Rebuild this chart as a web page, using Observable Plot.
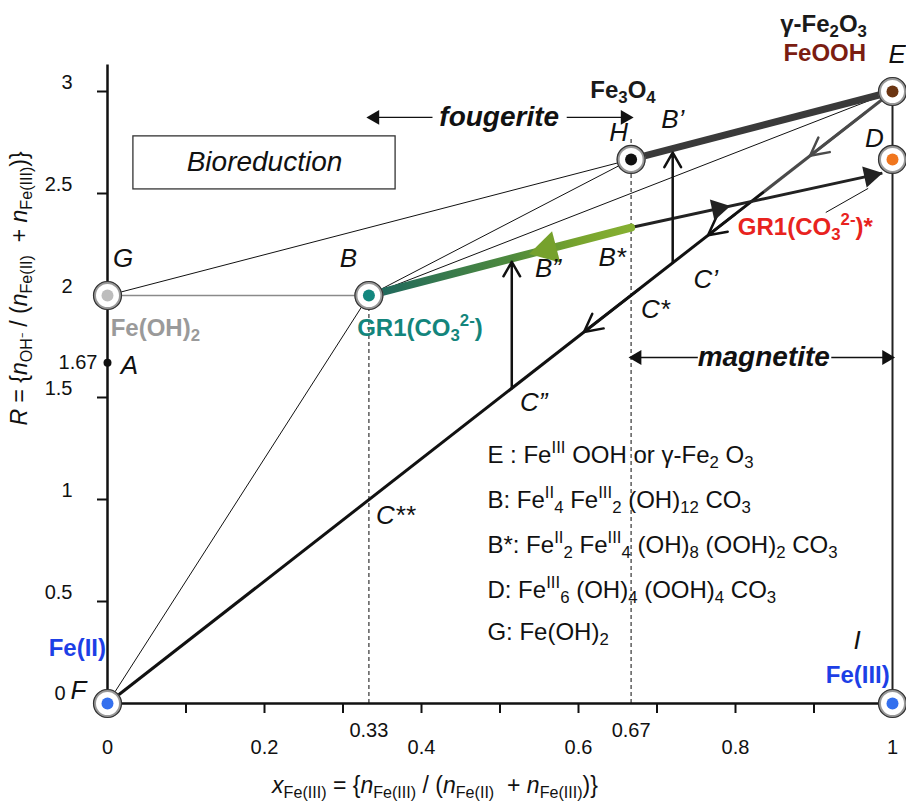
<!DOCTYPE html>
<html><head><meta charset="utf-8">
<script src="https://cdn.jsdelivr.net/npm/d3@7"></script>
<script src="https://cdn.jsdelivr.net/npm/@observablehq/plot@0.6"></script>
<style>body{margin:0;background:#fff}svg{display:block}</style>
</head><body><div id="chart"></div>
<script>
// ---- circled composition points ----
const nodeNames  = ["F", "G", "B", "H", "E", "D", "I"];
const nodeX      = [0, 0, 0.333, 0.667, 1, 1, 1];
const nodeY      = [0, 2, 2, 2.667, 3, 2.667, 0];
const nodeColors = ["#3470ee", "#bdbdbd", "#13877e", "#111111", "#6b3512", "#f0761e", "#3470ee"];
// extra points
const pointA = {x: 0, y: 1.67};
const pointBstar = {x: 0.667, y: 2.333};
const pointDend = {x: 0.987, y: 2.60};   // B* -> D arrow ends at D's rim
// thin tie lines (node name pairs)
const thinSegments = [["G","H"], ["B","H"], ["B","E"], ["F","B"]];
// oxidation path E -> F along R = 3x, split at C'
const pathSplitX = 0.8;
const chevronX = [0.895, 0.765, 0.607];
// vertical arrows C' -> B', C'' -> B''
const vArrowX  = [0.72, 0.515];
const vArrowY1 = [2.16, 1.545];
const vArrowY2 = [2.70, 2.165];
// axis ticks
const xMinorTicks = [0.1,0.2,0.3,0.4,0.5,0.6,0.7,0.8,0.9];
const xTickLabels = [0, 0.2, 0.4, 0.6, 0.8, 1];
const xSpecialTicks = [0.333, 0.667];
const xSpecialLabels = ["0.33", "0.67"];
const yTicks = [0.5, 1, 1.5, 2, 2.5, 3];
// regions
const fougerite = {x1: 0.333, x2: 0.667, y: 2.873, textX: 0.499, gap1: 0.414, gap2: 0.585};
const magnetite = {x1: 0.667, x2: 1.0, y: 1.696, textX: 0.836, gap1: 0.752, gap2: 0.922};
const bioBox = {x1: 0.033, x2: 0.367, y1: 2.52, y2: 2.78, tx: 0.2, ty: 2.652};
// italic point labels
const letterText = ["G","B","A","H","B’","D","E","B*","B”","C’","C*","C”","C**","F","I"];
const letterX    = [0.020,0.307,0.028,0.651,0.720,0.977,1.006,0.643,0.561,0.762,0.698,0.543,0.367,-0.037,0.955];
const letterY    = [2.18,2.18,1.657,2.80,2.86,2.77,3.18,2.186,2.13,2.08,1.93,1.475,0.92,0.064,0.31];
// bold coloured labels (start anchored)
const tagText  = ["Fe(OH)_{2}", "GR1(CO_{3}^{2-})", "Fe_{3}O_{4}", "γ-Fe_{2}O_{3}", "FeOOH", "GR1(CO_{3}^{2-})*", "Fe(II)", "Fe(III)"];
const tagX     = [0.004, 0.318, 0.615, 0.857, 0.861, 0.803, -0.075, 0.915];
const tagY     = [1.838, 1.838, 3.005, 3.33, 3.186, 2.333, 0.27, 0.137];
const tagColor = ["#9a9a9a", "#13857c", "#1a1a1a", "#1a1a1a", "#7b1d12", "#e8231e", "#1d3fe6", "#1d3fe6"];
// pointer from GR1(CO3)* label toward D
const pointer = {x1: 0.915, y1: 2.407, x2: 0.969, y2: 2.525};
// formula legend
const legendLines = [
  "E : Fe^{III} OOH or γ-Fe_{2} O_{3}",
  "B: Fe^{II}_{4} Fe^{III}_{2} (OH)_{12} CO_{3}",
  "B*: Fe^{II}_{2} Fe^{III}_{4} (OH)_{8} (OOH)_{2} CO_{3}",
  "D: Fe^{III}_{6} (OH)_{4} (OOH)_{4} CO_{3}",
  "G: Fe(OH)_{2}"
];
const legendX = 0.484;
const legendY = [1.216, 0.995, 0.775, 0.554, 0.348];
const yTitle = "~{R} = {~{n}_{OH⁻} / (~{n}_{Fe(II)}  + ~{n}_{Fe(III)})}";
const xTitle = "~{x}_{Fe(III)} = {~{n}_{Fe(III)} / (~{n}_{Fe(II)}  + ~{n}_{Fe(III)})}";

// ---- derived tables ----
const nodes = nodeNames.map((n, i) => ({name: n, x: nodeX[i], y: nodeY[i], color: nodeColors[i]}));
const byName = Object.fromEntries(nodes.map(d => [d.name, d]));
const segs = thinSegments.map(([a, b]) => ({a: byName[a], b: byName[b]}));
const E = byName.E, F = byName.F, B = byName.B, H = byName.H, D = byName.D, G = byName.G;
const split = {x: pathSplitX, y: 3 * pathSplitX};
const vArrows = vArrowX.map((x, i) => ({x, y1: vArrowY1[i], y2: vArrowY2[i]}));
const letters = letterText.map((t, i) => ({t, x: letterX[i], y: letterY[i]}));
const tags = tagText.map((t, i) => ({t, x: tagX[i], y: tagY[i], c: tagColor[i]}));
const legend = legendLines.map((t, i) => ({t, x: legendX, y: legendY[i]}));
const lerp = (p, q, x) => p.y + (q.y - p.y) * (x - p.x) / (q.x - p.x);
const greenHeadX = 0.56, bdHeadX = [0.778, 0.972];

const link = (p, q, o) => Plot.link([0], {x1: () => p.x, y1: () => p.y, x2: () => q.x, y2: () => q.y, ...o});

const chart = Plot.plot({
  width: 906, height: 802,
  marginLeft: 107, marginRight: 14, marginTop: 50.2, marginBottom: 99,
  x: {domain: [0, 1]},
  y: {domain: [0, 3.2]},
  color: {type: "identity"},
  style: {fontFamily: "'Liberation Sans', Arial, sans-serif", background: "white", color: "#111"},
  marks: [
    () => {
      const defs = d3.create("svg:defs");
      const g = defs.append("linearGradient").attr("id", "greenGrad")
        .attr("x1", 0).attr("y1", 0).attr("x2", 1).attr("y2", 0);
      g.append("stop").attr("offset", "0%").attr("stop-color", "#1c6660");
      g.append("stop").attr("offset", "55%").attr("stop-color", "#4f8a3c");
      g.append("stop").attr("offset", "80%").attr("stop-color", "#78a42e");
      g.append("stop").attr("offset", "100%").attr("stop-color", "#86b032");
      return defs.node();
    },
    // Bioreduction box
    Plot.rect([bioBox], {x1: "x1", x2: "x2", y1: "y1", y2: "y2", fill: "white", stroke: "#333", strokeWidth: 1.3}),
    // dashed guides
    Plot.ruleX([B.x], {y1: 0, y2: B.y, stroke: "#333", strokeWidth: 1.2, strokeDasharray: "4,3"}),
    Plot.ruleX([H.x], {y1: 0, y2: 2.78, stroke: "#333", strokeWidth: 1.2, strokeDasharray: "4,3"}),
    // axes frame
    Plot.ruleX([0], {y1: 0, y2: 3.13, stroke: "#111", strokeWidth: 2.5}),
    Plot.ruleY([0], {x1: 0, x2: 1, stroke: "#111", strokeWidth: 2.5}),
    Plot.ruleX([1], {y1: -0.04, y2: 3, stroke: "#222", strokeWidth: 2}),
    Plot.axisX(xMinorTicks, {anchor: "bottom", tickSize: 10, tickFormat: () => "", strokeWidth: 2, label: null}),
    Plot.axisY(yTicks, {anchor: "left", tickSize: 10, tickFormat: () => "", strokeWidth: 2, label: null}),
    // tie lines
    Plot.link(segs, {x1: d => d.a.x, y1: d => d.a.y, x2: d => d.b.x, y2: d => d.b.y, stroke: "#111", strokeWidth: 1}),
    link(G, B, {stroke: "#8a8a8a", strokeWidth: 1.6}),
    link(H, E, {stroke: "#3a3a3a", strokeWidth: 7}),
    // oxidation path
    link(E, split, {stroke: "#4a4a4a", strokeWidth: 3}),
    link(split, F, {stroke: "#111", strokeWidth: 3}),
    Plot.arrow(chevronX, {x1: d => d + 0.07, y1: d => 3 * (d + 0.07), x2: d => d, y2: d => 3 * d,
      stroke: d => d > pathSplitX ? "#4a4a4a" : "#111", strokeWidth: 2.5, headLength: 12, headAngle: 55}),
    // B* -> D
    link(pointBstar, pointDend, {stroke: "#222", strokeWidth: 3}),
    Plot.dot(bdHeadX, {x: d => d, y: d => lerp(pointBstar, pointDend, d), symbol: "triangle", r: 8, rotate: 78, fill: "#222", stroke: "none"}),
    // green GR1 line B -> B*
    Plot.line([B, pointBstar], {x: "x", y: "y", stroke: "url(#greenGrad)", strokeWidth: 8, strokeLinecap: "round"}),
    Plot.dot([greenHeadX], {x: d => d, y: d => lerp(B, pointBstar, d), symbol: "triangle", r: 12, rotate: -104.6, fill: "#76a12c", stroke: "none"}),
    // vertical arrows
    Plot.arrow(vArrows, {x1: "x", x2: "x", y1: "y1", y2: "y2", stroke: "#111", strokeWidth: 2.5, headLength: 10, headAngle: 60}),
    // fougerite / magnetite range arrows
    Plot.link([fougerite, magnetite], {x1: "x1", x2: "gap1", y1: "y", y2: "y", stroke: "#111", strokeWidth: 1.4}),
    Plot.link([fougerite, magnetite], {x1: "gap2", x2: "x2", y1: "y", y2: "y", stroke: "#111", strokeWidth: 1.4}),
    Plot.dot([fougerite, magnetite], {x: "x1", y: "y", symbol: "triangle", r: 5.5, rotate: -90, fill: "#111", stroke: "none", dx: 6}),
    Plot.dot([fougerite, magnetite], {x: "x2", y: "y", symbol: "triangle", r: 5.5, rotate: 90, fill: "#111", stroke: "none", dx: -6}),
    Plot.text([fougerite, magnetite], {x: "textX", y: "y", text: (d, i) => i === 0 ? "fougerite" : "magnetite",
      fontSize: 28, fontWeight: "bold", fontStyle: "italic", fill: "#111"}),
    // pointer
    Plot.link([pointer], {x1: "x1", y1: "y1", x2: "x2", y2: "y2", stroke: "#111", strokeWidth: 1}),
    // circled nodes
    Plot.dot(nodes, {x: "x", y: "y", r: 13, fill: "white", stroke: "#999", strokeWidth: 3}),
    Plot.dot(nodes, {x: "x", y: "y", r: 14, fill: "none", stroke: "#333", strokeWidth: 1.2}),
    Plot.dot(nodes, {x: "x", y: "y", r: 6, fill: "color", stroke: "none"}),
    Plot.dot([pointA], {x: "x", y: "y", r: 4, fill: "#111", stroke: "none"}),
    // labels
    Plot.text([bioBox], {x: "tx", y: "ty", text: () => "Bioreduction", fontSize: 28, fontStyle: "italic", fill: "#111"}),
    Plot.text(letters, {x: "x", y: "y", text: "t", fontSize: 26, fontStyle: "italic", fill: "#111"}),
    Plot.text(tags, {x: "x", y: "y", text: "t", fill: "c", fontSize: 24, fontWeight: "bold", textAnchor: "start"}),
    Plot.text(legend, {x: "x", y: "y", text: "t", fontSize: 24, textAnchor: "start", fill: "#111"}),
    // tick labels
    Plot.text(xTickLabels, {x: d => d, frameAnchor: "bottom", dy: 50, text: d => String(d), fontSize: 20, fill: "#111"}),
    Plot.text(xSpecialTicks, {x: d => d, frameAnchor: "bottom", dy: 33, text: (d, i) => xSpecialLabels[i], fontSize: 20, fill: "#111"}),
    Plot.text(yTicks, {y: d => d, frameAnchor: "left", dx: -35, dy: -9, textAnchor: "end", text: d => String(d), fontSize: 20, fill: "#111"}),
    Plot.text([pointA], {y: "y", frameAnchor: "left", dx: -10, textAnchor: "end", text: () => "1.67", fontSize: 20, fill: "#111"}),
    Plot.text([0], {y: d => d, frameAnchor: "left", dx: -42, dy: -10, textAnchor: "end", text: () => "0", fontSize: 20, fill: "#111"}),
    // axis titles
    Plot.text([yTitle], {frameAnchor: "left", textAnchor: "middle", dx: -88, dy: -88.6, rotate: -90, text: d => d, fontSize: 23, fill: "#111"}),
    Plot.text([xTitle], {frameAnchor: "bottom", textAnchor: "middle", dx: -65, dy: 89, text: d => d, fontSize: 23, fill: "#111"})
  ]
});

// rich text: _{sub} ^{sup} ~{italic}
function richify(svg) {
  const NS = "http://www.w3.org/2000/svg";
  svg.querySelectorAll("text").forEach(t => {
    const s = t.textContent;
    if (!/[_^~]\{/.test(s)) return;
    while (t.firstChild) t.removeChild(t.firstChild);
    const re = /([_^~])\{([^}]*)\}|([^_^~]+|[_^~])/g;
    let m;
    while ((m = re.exec(s))) {
      const ts = document.createElementNS(NS, "tspan");
      if (m[1]) {
        ts.textContent = m[2];
        if (m[1] === "_") { ts.setAttribute("baseline-shift", "-0.3em"); ts.setAttribute("font-size", "70%"); }
        else if (m[1] === "^") { ts.setAttribute("baseline-shift", "0.6em"); ts.setAttribute("font-size", "70%"); }
        else ts.setAttribute("font-style", "italic");
      } else ts.textContent = m[3];
      t.appendChild(ts);
    }
  });
}
richify(chart);
document.getElementById("chart").appendChild(chart);
</script>
</body></html>
